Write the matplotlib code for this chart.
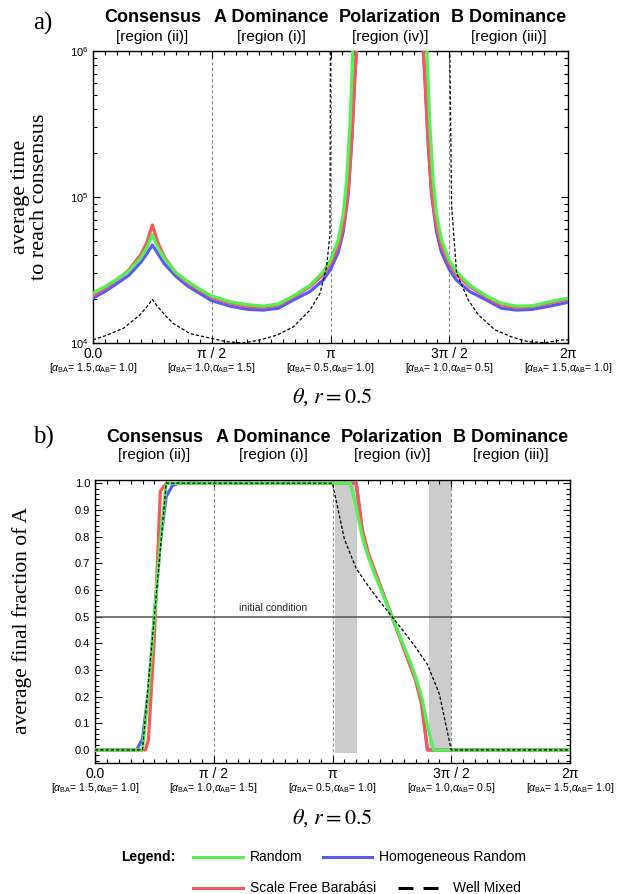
import numpy as np
import matplotlib
matplotlib.use('Agg')
import matplotlib.pyplot as plt
from matplotlib.lines import Line2D
from matplotlib.ticker import MultipleLocator, LogLocator, NullFormatter, FixedLocator

plt.rcParams['font.family'] = ['Liberation Sans', 'DejaVu Sans']
plt.rcParams['mathtext.fontset'] = 'custom'
plt.rcParams['mathtext.rm'] = 'Liberation Sans'
plt.rcParams['mathtext.it'] = 'Liberation Sans:italic'
plt.rcParams['mathtext.bf'] = 'Liberation Sans:bold'

PI = np.pi
NAN = np.nan

# ---------------- data: panel a (average time to reach consensus) ----------------
time_theta_random = [0.000, 0.157, 0.314, 0.471, 0.628, 0.707, 0.785, 0.864, 0.942, 1.100, 1.257, 1.414,
                     1.571, 1.810, 2.042, 2.253, 2.450, 2.650, 2.870, 3.047, 3.142, 3.245, 3.311, 3.355,
                     3.400, 3.440, NAN, 4.414, 4.455, 4.500, 4.543, 4.609, 4.712, 4.807, 4.984, 5.204,
                     5.404, 5.601, 5.812, 6.044, 6.283]
time_random = [22000, 24300, 27300, 31100, 38000, 44500, 55000, 44500, 38000, 30300, 26300, 23300,
               21000, 19200, 18300, 17900, 18500, 21000, 24900, 30800, 37000, 51000, 77300, 130000,
               320000, 1100000, NAN, 1100000, 320000, 130000, 77300, 51000, 37000, 30800, 24900, 21000,
               18700, 17900, 18000, 19200, 20300]

time_theta_net = [0.000, 0.157, 0.314, 0.471, 0.628, 0.707, 0.785, 0.864, 0.942, 1.100, 1.257, 1.414,
                  1.571, 1.810, 2.042, 2.253, 2.450, 2.650, 2.870, 3.047, 3.142, 3.245, 3.311, 3.377,
                  3.422, 3.466, 3.490, NAN, 4.364, 4.388, 4.432, 4.477, 4.543, 4.609, 4.712, 4.807,
                  4.984, 5.204, 5.404, 5.601, 5.812, 6.044, 6.283]
time_scalefree = [21100, 23800, 27000, 31500, 40000, 48000, 64300, 48000, 39000, 30000, 25800, 22800,
                  20600, 18800, 17800, 17500, 18200, 20600, 24300, 29500, 35000, 46000, 62700, 112000,
                  245000, 700000, 1100000, NAN, 1100000, 700000, 245000, 112000, 62700, 46000, 35000, 29500,
                  24300, 20600, 18200, 17500, 17800, 18800, 20000]
time_homog = [20300, 22500, 25500, 29000, 35500, 40500, 46900, 40500, 35000, 28500, 24500, 21800,
              19500, 17900, 17000, 16800, 17300, 19700, 22500, 27000, 32000, 42000, 58000, 105000,
              240000, 700000, 1100000, NAN, 1100000, 700000, 240000, 105000, 58000, 42000, 32000, 27000,
              22500, 19700, 17300, 16800, 17000, 17900, 19000]

time_theta_wellmixed = [0.000, 0.181, 0.401, 0.622, 0.732, 0.785, 0.838, 0.948, 1.063, 1.283, 1.548,
                        1.770, 1.990, 2.209, 2.430, 2.650, 2.870, 3.003, 3.090, 3.135, 3.1416, NAN,
                        4.7124, 4.744, 4.810, 4.964, 5.097, 5.317, 5.538, 5.758, 5.979, 6.220, 6.283]
time_wellmixed = [10500, 11300, 12600, 15600, 18200, 19900, 18200, 15600, 13600, 11600, 10800,
                  10200, 10000, 10500, 11300, 12900, 16800, 21900, 33400, 56000, 2000000, NAN,
                  2000000, 86000, 30000, 19700, 15600, 12300, 11000, 10200, 10050, 10500, 10500]

# ---------------- data: panel b (average final fraction of A) ----------------
frac_theta_random = [0.0, 0.628, 0.707, 0.785, 0.864, 0.942, 3.377, 3.456, 3.534, 3.613, 3.691, 3.770,
                     3.848, 3.927, 4.006, 4.084, 4.163, 4.241, 4.320, 4.398, 4.477, 6.283]
frac_random = [0.0, 0.0, 0.22, 0.5, 0.78, 1.0, 1.0, 0.91, 0.80, 0.725, 0.665, 0.61,
               0.555, 0.5, 0.445, 0.39, 0.335, 0.275, 0.20, 0.09, 0.0, 0.0]

frac_theta_scalefree = [0.0, 0.668, 0.707, 0.785, 0.864, 0.942, 3.456, 3.534, 3.613, 3.691, 3.770,
                        3.848, 3.927, 4.006, 4.084, 4.163, 4.241, 4.320, 4.398, 6.283]
frac_scalefree = [0.0, 0.0, 0.04, 0.42, 0.97, 1.0, 1.0, 0.83, 0.74, 0.68, 0.62,
                  0.56, 0.5, 0.44, 0.38, 0.32, 0.26, 0.17, 0.0, 0.0]

frac_theta_homog = [0.0, 0.550, 0.628, 0.707, 0.785, 0.864, 0.942, 1.021, 1.100, 3.456, 3.534, 3.613,
                    3.691, 3.770, 3.848, 3.927, 4.006, 4.084, 4.163, 4.241, 4.320, 4.398, 6.283]
frac_homog = [0.0, 0.0, 0.04, 0.22, 0.5, 0.78, 0.95, 0.99, 1.0, 1.0, 0.82, 0.735,
              0.675, 0.615, 0.558, 0.5, 0.442, 0.385, 0.325, 0.265, 0.18, 0.0, 0.0]

frac_theta_wellmixed = [0.0, 0.628, 0.785, 0.942, 3.1416, 3.299, 3.456, 3.613, 3.770, 3.927, 4.084,
                        4.241, 4.398, 4.555, 4.712, 6.283]
frac_wellmixed = [0.0, 0.0, 0.5, 1.0, 1.0, 0.79, 0.68, 0.615, 0.556, 0.5, 0.444,
                  0.385, 0.32, 0.21, 0.0, 0.0]

initial_condition = 0.5
band_x = [(3.175, 3.462), (4.418, 4.705)]
band_y = [(-0.012, 1.005), (0.0, 1.010)]

# ---------------- labels ----------------
tick_values = [0, PI / 2, PI, 3 * PI / 2, 2 * PI]
tick_labels = ['0.0', 'π / 2', 'π', '3π / 2', '2π']
alpha_ba = ['1.5', '1.0', '0.5', '1.0', '1.5']
alpha_ab = ['1.0', '1.5', '1.0', '0.5', '1.0']
region_names = ['Consensus', 'A Dominance', 'Polarization', 'B Dominance']
region_tags = ['[region (ii)]', '[region (i)]', '[region (iv)]', '[region (iii)]']
series_names = ['Random', 'Homogeneous Random', 'Scale Free Barabási', 'Well Mixed']

C_GREEN = '#55f055'
C_BLUE = '#5a5af5'
C_RED = '#f55a5a'
C_GRAYLINE = '#8a8a8a'

W, H = 628, 894
fig = plt.figure(figsize=(W / 100, H / 100), dpi=100)


def fx(x):
    return x / W


def fy(y):
    return 1 - y / H


def ax_rect(l, t, r, b):
    return [fx(l), fy(b), (r - l) / W, (b - t) / H]


ax_a = fig.add_axes(ax_rect(93, 51, 568, 343))
ax_b = fig.add_axes(ax_rect(95, 480, 570, 763))

NET_LW = 2.3
WM_DASH = (0, (2.6, 1.6))

for ax in (ax_a, ax_b):
    for v in tick_values[1:4]:
        ax.axvline(v, color=C_GRAYLINE, lw=0.8, ls=(0, (3, 2)), zorder=1)
    ax.set_xlim(0, 2 * PI)
    ax.set_xticks(tick_values)
    ax.set_xticklabels(tick_labels, fontsize=10)
    ax.xaxis.set_minor_locator(MultipleLocator(PI / 20))
    ax.tick_params(which='both', direction='in', top=True, right=True, width=0.8)
    ax.tick_params(which='major', length=5)
    ax.tick_params(which='minor', length=3)
    ax.tick_params(axis='x', pad=3)
    for s in ax.spines.values():
        s.set_linewidth(1.0)
    for i, v in enumerate(tick_values):
        ax.annotate(r'[$\alpha_{\rm BA}$= ' + alpha_ba[i] + r',$\alpha_{\rm AB}$= ' + alpha_ab[i] + ']',
                    xy=(v, 0), xycoords=('data', 'axes fraction'), xytext=(0, -18),
                    textcoords='offset points', ha='center', va='center', fontsize=7.5,
                    annotation_clip=False)

# panel a
ax_a.plot(time_theta_net, time_homog, color=C_BLUE, lw=NET_LW, zorder=3)
ax_a.plot(time_theta_net, time_scalefree, color=C_RED, lw=NET_LW, zorder=4)
ax_a.plot(time_theta_random, time_random, color=C_GREEN, lw=NET_LW, zorder=5)
ax_a.plot(time_theta_wellmixed, time_wellmixed, color='black', lw=0.9, ls=WM_DASH, zorder=6)
ax_a.set_yscale('log')
ax_a.set_ylim(1e4, 1e6)
ax_a.yaxis.set_minor_locator(LogLocator(base=10, subs=np.arange(2, 10)))
ax_a.yaxis.set_minor_formatter(NullFormatter())
ax_a.tick_params(axis='y', labelsize=8)

# panel b
for (x0, x1), (y0, y1) in zip(band_x, band_y):
    ax_b.fill_between([x0, x1], [y0, y0], [y1, y1], color='#cccccc', lw=0, zorder=0.5)
ax_b.axhline(initial_condition, color='#555555', lw=1.1, zorder=2)
ax_b.text(2.35, initial_condition + 0.012, 'initial condition', fontsize=7.5, ha='center',
          va='bottom', color='#222222')
ax_b.plot(frac_theta_homog, frac_homog, color=C_BLUE, lw=NET_LW, zorder=3)
ax_b.plot(frac_theta_scalefree, frac_scalefree, color=C_RED, lw=NET_LW, zorder=4)
ax_b.plot(frac_theta_random, frac_random, color=C_GREEN, lw=NET_LW, zorder=5)
ax_b.plot(frac_theta_wellmixed, frac_wellmixed, color='black', lw=0.9, ls=WM_DASH, zorder=6)
ax_b.set_ylim(-0.049, 1.012)
ax_b.yaxis.set_major_locator(FixedLocator(np.round(np.arange(0, 1.01, 0.1), 1)))
ax_b.yaxis.set_major_formatter(plt.FuncFormatter(lambda v, p: f'{v:.1f}'))
ax_b.yaxis.set_minor_locator(MultipleLocator(0.02))
ax_b.tick_params(axis='y', labelsize=8)

# headers
for ax, ytop, ysub, letter, yl in ((ax_a, 17, 37, 'a)', 23), (ax_b, 437, 455, 'b)', 437)):
    pos = ax.get_position()
    for i in range(4):
        xc = pos.x0 + pos.width * (i + 0.5) / 4
        fig.text(xc, fy(ytop), region_names[i], fontsize=13, fontweight='bold', ha='center', va='center')
        fig.text(xc, fy(ysub), region_tags[i], fontsize=11, ha='center', va='center')
    fig.text(fx(43), fy(yl), letter, fontsize=18, family='Liberation Serif', ha='center', va='center')

# axis labels
fig.text(fx(30), fy(197), 'average time\nto reach consensus', rotation=90, fontsize=16,
         family='Liberation Serif', ha='center', va='center', linespacing=1.0)
fig.text(fx(22), fy(620), 'average final fraction of A', rotation=90, fontsize=15.5,
         family='Liberation Serif', ha='center', va='center')
for yy in (397, 818):
    fig.text(fx(332), fy(yy), r'$\theta$, $r = 0.5$', fontsize=16, math_fontfamily='stix',
             family='Liberation Serif', ha='center', va='center')

# legend (manual)
fig.text(fx(148), fy(857), 'Legend:', fontsize=10, fontweight='bold', ha='center', va='center')
legend_rows = [
    (857, [(193, 243, C_GREEN, '-', series_names[0]), (323, 372, C_BLUE, '-', series_names[1])]),
    (888, [(193, 243, C_RED, '-', series_names[2]), (398, 446, 'black', (0, (4.9, 3.3)), series_names[3])]),
]
for yrow, items in legend_rows:
    for x0, x1, col, ls, name in items:
        fig.add_artist(Line2D([fx(x0), fx(x1)], [fy(yrow), fy(yrow)], color=col, lw=2.2, ls=ls,
                              transform=fig.transFigure))
        fig.text(fx(x1 + 7), fy(yrow), name, fontsize=10, ha='left', va='center')

fig.savefig('out.png', dpi=100)
